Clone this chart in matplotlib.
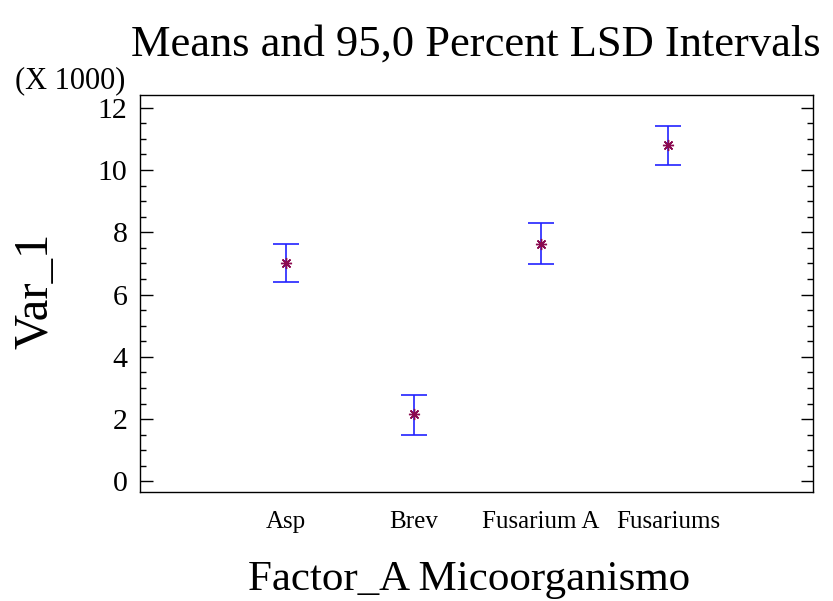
import numpy as np
import matplotlib.pyplot as plt
from matplotlib.ticker import MultipleLocator

# Données (en milliers)
categories = ["Asp", "Brev", "Fusarium A", "Fusariums"]
moyennes = [7.03, 2.16, 7.64, 10.81]
bornes_inf = [6.41, 1.50, 6.99, 10.15]
bornes_sup = [7.64, 2.79, 8.29, 11.43]

plt.rcParams['font.family'] = ['Liberation Serif', 'DejaVu Serif']

W, H = 833, 601
fig = plt.figure(figsize=(W / 100, H / 100), dpi=100)
ax = fig.add_axes([140 / W, 1 - 492 / H, 673 / W, 397 / H])

x = np.arange(1, len(categories) + 1)
moy = np.array(moyennes)
err = [moy - np.array(bornes_inf), np.array(bornes_sup) - moy]

ax.errorbar(x, moy, yerr=err, fmt='none', ecolor='#2222ff', elinewidth=1.2,
            capsize=9.5, capthick=1.2)
ax.plot(x, moy, linestyle='none', marker=(8, 2, 0), markersize=8,
        color='#8b0a50', markeredgewidth=1.0)

ax.set_xlim(-0.15, 5.14)
ax.set_ylim(-0.34, 12.41)
ax.set_xticks(x)
ax.set_xticklabels(categories, fontsize=18)
ax.set_yticks(np.arange(0, 13, 2))
ax.yaxis.set_minor_locator(MultipleLocator(0.5))
ax.tick_params(axis='x', length=0, pad=14)
ax.tick_params(axis='y', which='major', direction='in', length=9, width=1,
               labelsize=21.5, right=True, pad=9)
ax.tick_params(axis='y', which='minor', direction='in', length=4, width=1,
               right=True)
for s in ax.spines.values():
    s.set_linewidth(1.0)

fig.text(476 / W, 1 - 56 / H, "Means and 95,0 Percent LSD Intervals",
         fontsize=32, ha='center', va='baseline')
fig.text(125 / W, 1 - 88 / H, "(X 1000)", fontsize=22, ha='right', va='baseline')
fig.text(36 / W, 1 - 291 / H, "Var_1", fontsize=35, rotation=90,
         ha='center', va='center')
fig.text(469 / W, 1 - 590 / H, "Factor_A Micoorganismo", fontsize=31,
         ha='center', va='baseline')

fig.savefig("out.png", dpi=100)
